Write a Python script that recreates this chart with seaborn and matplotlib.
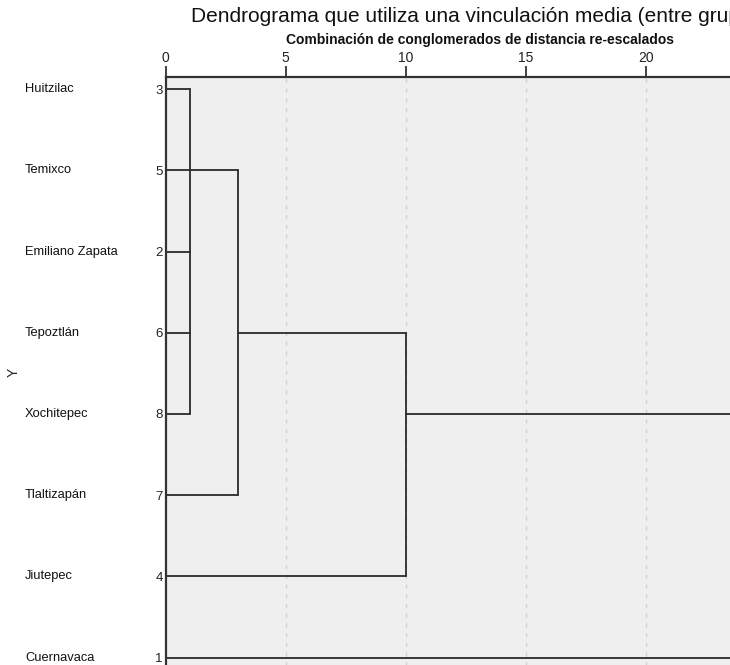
import numpy as np
import pandas as pd
import matplotlib
matplotlib.use('Agg')
import matplotlib.pyplot as plt
import matplotlib.transforms as mtransforms
import seaborn as sns

sns.set_style('white')
plt.rcParams['font.family'] = ['Liberation Sans', 'DejaVu Sans']

# leaves, top to bottom as in the dendrogram
names = ['Huitzilac', 'Temixco', 'Emiliano Zapata', 'Tepoztlán',
         'Xochitepec', 'Tlaltizapán', 'Jiutepec', 'Cuernavaca']
case_ids = [3, 5, 2, 6, 8, 7, 4, 1]

# merge steps: members (leaf ids or previous step 'c<n>'), height, row of outgoing line
merge_members = [[3, 5, 2, 6, 8], ['c0', 7], ['c1', 4], ['c2', 1]]
merge_heights = [1, 3, 10, 25]
merge_rows = [1, 3, 4, 5.5]

x_ticks = [0, 5, 10, 15, 20]

# build the line segments of the dendrogram
row_of = {cid: i for i, cid in enumerate(case_ids)}
segs = []
node_pos = {}
for k, (members, h, out_row) in enumerate(zip(merge_members, merge_heights, merge_rows)):
    rows = []
    for m in members:
        if isinstance(m, str):
            r, h0 = node_pos[m]
        else:
            r, h0 = row_of[m], 0
        rows.append(r)
        segs.append([(h0, r), (h, r)])
    segs.append([(h, min(rows)), (h, max(rows))])
    node_pos['c%d' % k] = (out_row, h)

records = []
for i, s in enumerate(segs):
    for (x, y) in s:
        records.append({'x': x, 'y': y, 'seg': i})
df = pd.DataFrame(records)

W, H = 730, 665
fig = plt.figure(figsize=(W / 100, H / 100), dpi=100)
fig.patch.set_facecolor('white')

px = 24.0  # pixels per unit
left = 165.7
top = 77
row_h = 81.2
y_top = -0.15
y_bot = 7.4
ax_h = (y_bot - y_top) * row_h
ax = fig.add_axes([left / W, 1 - (top + ax_h) / H, 25 * px / W, ax_h / H])
ax.set_facecolor('#efefef')

sns.lineplot(data=df, x='x', y='y', units='seg', estimator=None, sort=False,
             color='#2a2a2a', linewidth=1.3, ax=ax, legend=False)

ax.set_xlim(0, 25)
ax.set_ylim(y_bot, y_top)

# grid
for t in x_ticks[1:]:
    ax.axvline(t, color='#d2d2d2', linestyle=(0, (3, 4)), linewidth=1.0, zorder=0)

ax.xaxis.tick_top()
ax.set_xticks(x_ticks)
ax.set_xticklabels([str(t) for t in x_ticks], fontsize=10)
ax.tick_params(axis='x', direction='out', length=8, width=1.2, pad=1, colors='#222222')
ax.set_xlabel('')
ax.set_ylabel('')

ax.set_yticks(range(len(case_ids)))
ax.set_yticklabels([str(c) for c in case_ids], fontsize=9.5)
ax.tick_params(axis='y', length=0, pad=2, colors='#222222')

for side in ['right', 'bottom']:
    ax.spines[side].set_visible(False)
ax.spines['top'].set_color('#333333')
ax.spines['top'].set_linewidth(1.6)
ax.spines['left'].set_color('#333333')
ax.spines['left'].set_linewidth(1.6)

# municipality names
trans = mtransforms.blended_transform_factory(fig.transFigure, ax.transData)
for i, n in enumerate(names):
    ax.text(25 / W, i, n, transform=trans, ha='left', va='center', fontsize=9.3, color='#111111')

fig.text(14 / W, 1 - 372 / H, 'Y', rotation=90, ha='center', va='center', fontsize=10, color='#222222')

fig.text(480 / W, 1 - 17 / H, 'Dendrograma que utiliza una vinculación media (entre grupos)',
         ha='center', va='center', fontsize=15, color='#111111')
fig.text(480 / W, 1 - 40 / H, 'Combinación de conglomerados de distancia re-escalados',
         ha='center', va='center', fontsize=10, fontweight='bold', color='#111111')

fig.savefig('out.png', dpi=100)
